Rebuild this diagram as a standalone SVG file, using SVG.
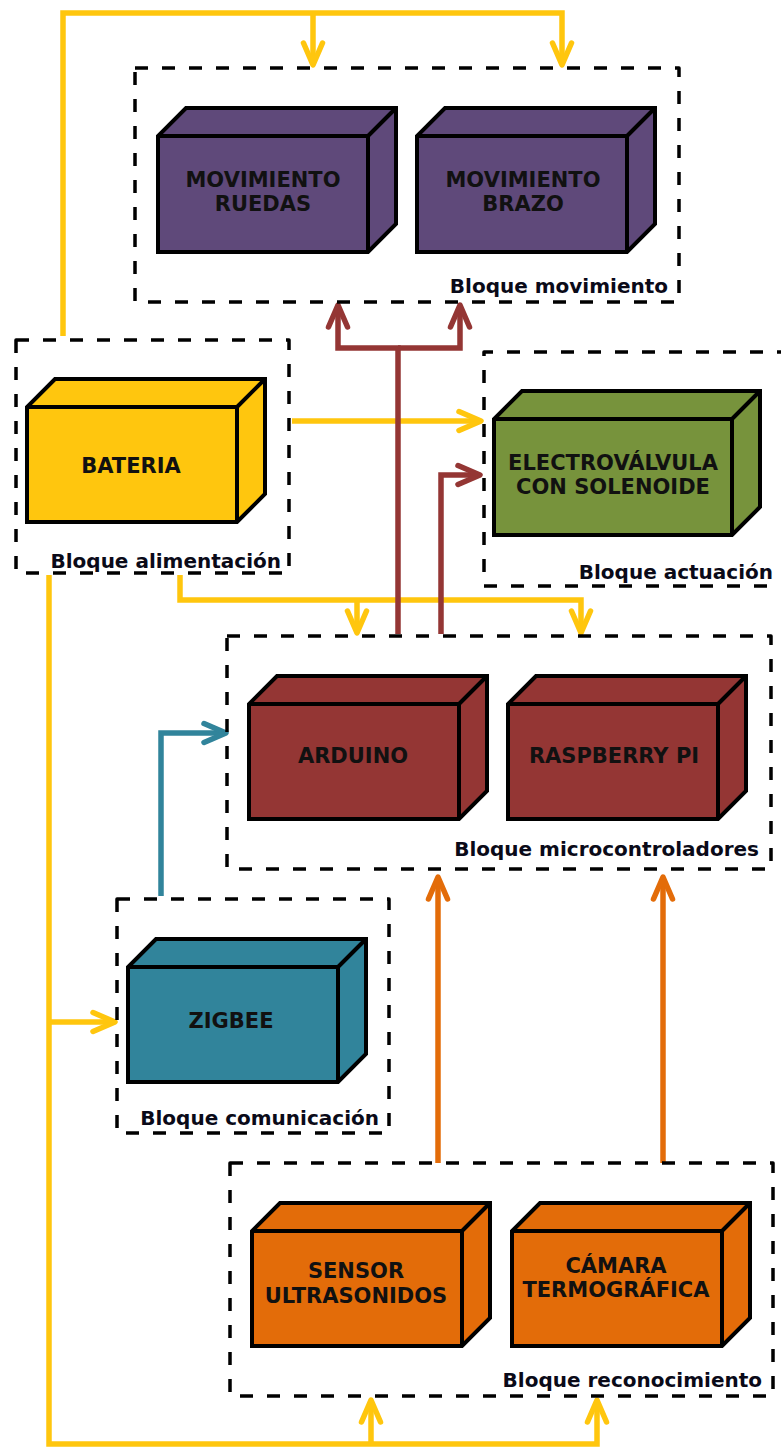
<svg xmlns="http://www.w3.org/2000/svg" width="781" height="1447" viewBox="0 0 781 1447">
  <style>
    .wire { fill: none; stroke-width: 5.5; stroke-linejoin: miter; stroke-linecap: butt; }
    .y { stroke: #FFC60E; }
    .m { stroke: #943634; }
    .t { stroke: #31849B; }
    .o { stroke: #E36C09; }
    .block { fill: none; stroke: #000; stroke-width: 3.5; stroke-dasharray: 13 14; stroke-linejoin: round; }
    .box { stroke: #000; stroke-width: 4; stroke-linejoin: miter; }
    .name { font-family: "DejaVu Sans", Verdana, sans-serif; font-weight: bold; font-size: 21px; fill: #111; text-anchor: middle; }
    .cap { font-family: "DejaVu Sans", Verdana, sans-serif; font-weight: bold; font-size: 20px; fill: #0a0a18; text-anchor: end; }
  </style>
  <defs>
    <marker id="ay" markerUnits="userSpaceOnUse" orient="auto" overflow="visible" markerWidth="1" markerHeight="1">
      <path d="M-22,-9.5 L0,0 L-22,9.5" fill="none" stroke="#FFC60E" stroke-width="5.5" stroke-linejoin="round" stroke-linecap="round"/>
    </marker>
    <marker id="am" markerUnits="userSpaceOnUse" orient="auto" overflow="visible" markerWidth="1" markerHeight="1">
      <path d="M-22,-9.5 L0,0 L-22,9.5" fill="none" stroke="#943634" stroke-width="5.5" stroke-linejoin="round" stroke-linecap="round"/>
    </marker>
    <marker id="at" markerUnits="userSpaceOnUse" orient="auto" overflow="visible" markerWidth="1" markerHeight="1">
      <path d="M-22,-9.5 L0,0 L-22,9.5" fill="none" stroke="#31849B" stroke-width="5.5" stroke-linejoin="round" stroke-linecap="round"/>
    </marker>
    <marker id="ao" markerUnits="userSpaceOnUse" orient="auto" overflow="visible" markerWidth="1" markerHeight="1">
      <path d="M-22,-9.5 L0,0 L-22,9.5" fill="none" stroke="#E36C09" stroke-width="5.5" stroke-linejoin="round" stroke-linecap="round"/>
    </marker>
  </defs>

  <rect width="781" height="1447" fill="#fff"/>

  <!-- connectors -->
  <g id="connectors">
    <!-- power lines -->
    <path class="wire y" d="M63,336 V13 H562 V65" marker-end="url(#ay)"/>
    <path class="wire y" d="M313,13 V65" marker-end="url(#ay)"/>
    <path class="wire y" d="M292,421 H481" marker-end="url(#ay)"/>
    <path class="wire y" d="M180,575 V600 H581 V633" marker-end="url(#ay)"/>
    <path class="wire y" d="M357,600 V633" marker-end="url(#ay)"/>
    <path class="wire y" d="M49,575 V1444 H597 V1400" marker-end="url(#ay)"/>
    <path class="wire y" d="M371,1444 V1400" marker-end="url(#ay)"/>
    <path class="wire y" d="M49,1022 H115" marker-end="url(#ay)"/>
    <!-- control lines -->
    <path class="wire m" d="M398,634 V348 H338 V305" marker-end="url(#am)"/>
    <path class="wire m" d="M398,348 H460 V305" marker-end="url(#am)"/>
    <path class="wire m" d="M441,634 V475 H480" marker-end="url(#am)"/>
    <!-- radio link -->
    <path class="wire t" d="M161,896 V733 H226" marker-end="url(#at)"/>
    <!-- sensor data -->
    <path class="wire o" d="M438,1163 V877" marker-end="url(#ao)"/>
    <path class="wire o" d="M663,1163 V877" marker-end="url(#ao)"/>
  </g>

  <!-- block frames -->
  <g id="block-movimiento">
    <rect class="block" x="135" y="68" width="544" height="234"/>
    <text class="cap" x="668" y="293">Bloque movimiento</text>
  </g>
  <g id="block-alimentacion">
    <rect class="block" x="16" y="340" width="273" height="233"/>
    <text class="cap" x="281" y="568">Bloque alimentación</text>
  </g>
  <g id="block-actuacion">
    <path class="block" d="M790,352 H484 V586 H790"/>
    <text class="cap" x="773" y="579">Bloque actuación</text>
  </g>
  <g id="block-microcontroladores">
    <rect class="block" x="227" y="636" width="544" height="233"/>
    <text class="cap" x="759" y="856">Bloque microcontroladores</text>
  </g>
  <g id="block-comunicacion">
    <rect class="block" x="117" y="899" width="272" height="234"/>
    <text class="cap" x="379" y="1125">Bloque comunicación</text>
  </g>
  <g id="block-reconocimiento">
    <rect class="block" x="230" y="1163" width="543" height="233"/>
    <text class="cap" x="762" y="1387">Bloque reconocimiento</text>
  </g>

  <!-- components: front face x,y w=210 h=115, depth 28 -->
  <g id="movimiento-ruedas">
    <path class="box" fill="#5F497A" d="M158,252 V136 L186,108 H396 V224 L368,252 Z M158,136 H368 V252 M368,136 L396,108"/>
    <text class="name" x="263" y="187">MOVIMIENTO</text>
    <text class="name" x="263" y="211">RUEDAS</text>
  </g>
  <g id="movimiento-brazo">
    <path class="box" fill="#5F497A" d="M417,252 V136 L445,108 H655 V224 L627,252 Z M417,136 H627 V252 M627,136 L655,108"/>
    <text class="name" x="523" y="187">MOVIMIENTO</text>
    <text class="name" x="523" y="211">BRAZO</text>
  </g>
  <g id="bateria">
    <path class="box" fill="#FFC60E" d="M27,522 V407 L55,379 H265 V494 L237,522 Z M27,407 H237 V522 M237,407 L265,379"/>
    <text class="name" x="131" y="473">BATERIA</text>
  </g>
  <g id="electrovalvula">
    <path class="box" fill="#77933C" d="M494,535 V419 L522,391 H760 V507 L732,535 Z M494,419 H732 V535 M732,419 L760,391"/>
    <text class="name" x="613" y="470">ELECTROVÁLVULA</text>
    <text class="name" x="613" y="494">CON SOLENOIDE</text>
  </g>
  <g id="arduino">
    <path class="box" fill="#943634" d="M249,819 V704 L277,676 H487 V791 L459,819 Z M249,704 H459 V819 M459,704 L487,676"/>
    <text class="name" x="353" y="763">ARDUINO</text>
  </g>
  <g id="raspberry-pi">
    <path class="box" fill="#943634" d="M508,819 V704 L536,676 H746 V791 L718,819 Z M508,704 H718 V819 M718,704 L746,676"/>
    <text class="name" x="614" y="763">RASPBERRY PI</text>
  </g>
  <g id="zigbee">
    <path class="box" fill="#31849B" d="M128,1082 V967 L156,939 H366 V1054 L338,1082 Z M128,967 H338 V1082 M338,967 L366,939"/>
    <text class="name" x="231" y="1028">ZIGBEE</text>
  </g>
  <g id="sensor-ultrasonidos">
    <path class="box" fill="#E36C09" d="M252,1346 V1231 L280,1203 H490 V1318 L462,1346 Z M252,1231 H462 V1346 M462,1231 L490,1203"/>
    <text class="name" x="356" y="1278">SENSOR</text>
    <text class="name" x="356" y="1303">ULTRASONIDOS</text>
  </g>
  <g id="camara-termografica">
    <path class="box" fill="#E36C09" d="M512,1346 V1231 L540,1203 H750 V1318 L722,1346 Z M512,1231 H722 V1346 M722,1231 L750,1203"/>
    <text class="name" x="616" y="1273">CÁMARA</text>
    <text class="name" x="616" y="1297">TERMOGRÁFICA</text>
  </g>
</svg>
